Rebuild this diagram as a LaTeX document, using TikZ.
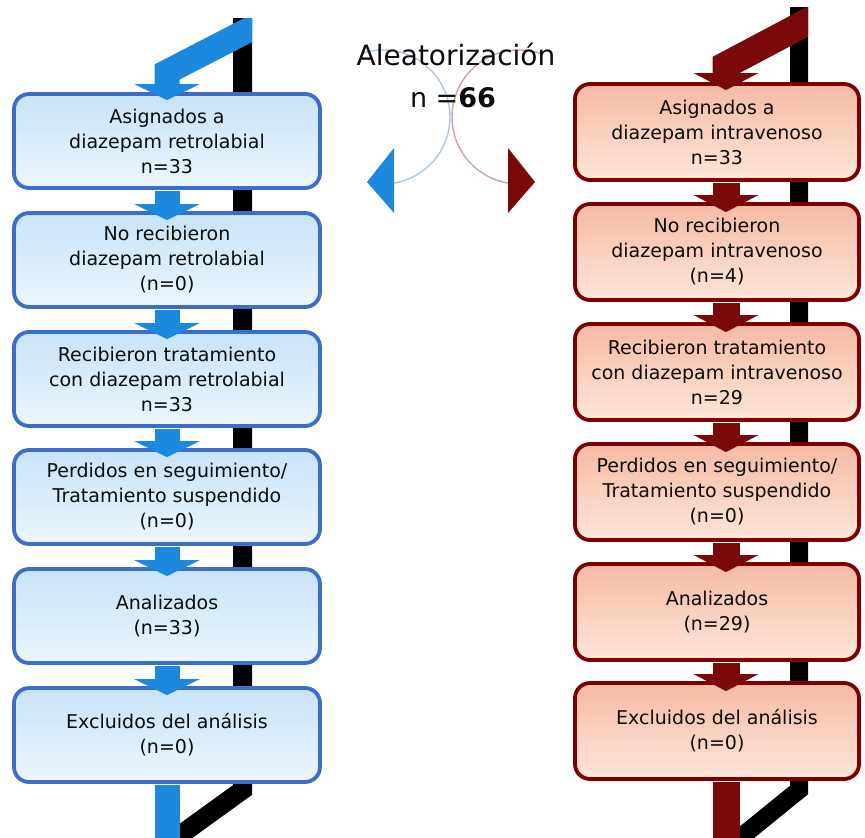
\documentclass[tikz,border=0pt]{standalone}
\usepackage{fontspec}
\setmainfont{DejaVu Sans}
\usetikzlibrary{arrows.meta,calc}
\definecolor{bxblue}{RGB}{58,110,200}
\definecolor{bxred}{RGB}{125,0,0}
\definecolor{lfillT}{RGB}{200,227,247}
\definecolor{lfillB}{RGB}{236,246,253}
\definecolor{rfillT}{RGB}{246,186,164}
\definecolor{rfillB}{RGB}{252,230,218}
\definecolor{arblue}{RGB}{28,136,222}
\definecolor{arred}{RGB}{122,10,10}
\definecolor{txt}{RGB}{12,12,12}
\definecolor{arcblue}{RGB}{150,185,220}
\definecolor{arcred}{RGB}{190,140,140}
\begin{document}
\begin{tikzpicture}[x=1pt,y=-1pt,
  boxbase/.style={line width=3.8pt, rounded corners=15pt, align=center,
    font=\fontsize{19}{25}\selectfont, text=txt, inner sep=0pt},
  lbox/.style={boxbase, draw=bxblue, top color=lfillT, bottom color=lfillB,
    minimum width=306pt, minimum height=94pt},
  rbox/.style={boxbase, draw=bxred, top color=rfillT, bottom color=rfillB,
    minimum width=284pt, minimum height=96pt},
  lshaft/.style={draw=arblue, line width=25pt, miter limit=10,
    -{Triangle[width=65pt,length=16pt]}},
  rshaft/.style={draw=arred, line width=27pt, miter limit=10,
    -{Triangle[width=64pt,length=17pt]}},
  lplain/.style={draw=arblue, line width=25pt},
  rplain/.style={draw=arred, line width=27pt},
  blackbar/.style={draw=black, line width=19pt, miter limit=10},
]
\useasboundingbox (0,0) rectangle (865,838);
\clip (0,0) rectangle (865,838);

% named coordinates
\coordinate (lbtop) at (242.5,-10);
\coordinate (lbbend) at (242.5,790);
\coordinate (lbend) at (165,846);
\coordinate (rbtop) at (799,-10);
\coordinate (rbbend) at (799,790);
\coordinate (rbend) at (730,846);
\coordinate (ltop) at (320,-7);
\coordinate (lbend1) at (167,72);
\coordinate (rtop) at (860,-6);
\coordinate (rbend1) at (726,65);
\coordinate (lfoot) at (167,850);
\coordinate (rfoot) at (726,850);

% black bars
\begin{scope}
\clip (0,18) rectangle (440,838);
\draw[blackbar] (lbtop) -- (lbbend) -- (lbend);
\end{scope}
\begin{scope}
\clip (440,7) rectangle (865,838);
\draw[blackbar, line width=18pt] (rbtop) -- (rbbend) -- (rbend);
\end{scope}

% boxes
\node[lbox] (L1) at (167,141) {Asignados a\\diazepam retrolabial\\n=33};
\node[lbox] (L2) at (167,260) {No recibieron\\diazepam retrolabial\\(n=0)};
\node[lbox] (L3) at (167,379) {Recibieron tratamiento\\con diazepam retrolabial\\n=33};
\node[lbox] (L4) at (167,497) {Perdidos en seguimiento/\\Tratamiento suspendido\\(n=0)};
\node[lbox] (L5) at (167,616) {Analizados\\(n=33)};
\node[lbox] (L6) at (167,735) {Excluidos del análisis\\(n=0)};

\node[rbox] (R1) at (717,132) {Asignados a\\diazepam intravenoso\\n=33};
\node[rbox] (R2) at (717,252) {No recibieron\\diazepam intravenoso\\(n=4)};
\node[rbox] (R3) at (717,372) {Recibieron tratamiento\\con diazepam intravenoso\\n=29};
\node[rbox] (R4) at (717,492) {Perdidos en seguimiento/\\Tratamiento suspendido\\(n=0)};
\node[rbox] (R5) at (717,612) {Analizados\\(n=29)};
\node[rbox] (R6) at (717,731) {Excluidos del análisis\\(n=0)};

% top connectors
\begin{scope}
\clip (0,18) rectangle (252,838);
\draw[lshaft] (ltop) -- (lbend1) -- ([yshift=-8pt]L1.north);
\end{scope}
\begin{scope}
\clip (440,7) rectangle (808,838);
\draw[rshaft] (rtop) -- (rbend1) -- ([xshift=9pt,yshift=-8pt]R1.north);
\end{scope}

% arrows between boxes
\foreach \a/\b in {L1/L2,L2/L3,L3/L4,L4/L5,L5/L6}
  \draw[lshaft] ([yshift=-1pt]\a.south) -- ([yshift=-9pt]\b.north);
\foreach \a/\b in {R1/R2,R2/R3,R3/R4,R4/R5,R5/R6}
  \draw[rshaft] ([xshift=9pt,yshift=-1pt]\a.south) -- ([xshift=9pt,yshift=-10pt]\b.north);

% bottom shafts
\draw[lplain] ([yshift=-1pt]L6.south) -- (lfoot);
\draw[rplain] ([xshift=9pt,yshift=-1pt]R6.south) -- (rfoot);

% centre: title and split
\coordinate (bc) at (383,117);
\coordinate (rc) at (519,117);
\draw[arcblue, line width=1.4pt, opacity=0.8] ($(bc)+(-109:67)$) arc[start angle=-109, end angle=81, radius=67];
\draw[arcred, line width=1.4pt, opacity=0.8] ($(rc)+(289:67)$) arc[start angle=289, end angle=99, radius=67];
\coordinate (btip) at (367,182);
\coordinate (rtip) at (535,182);
\fill[arblue] (btip) -- (394,148) -- (394,213) -- cycle;
\fill[arred] (rtip) -- (508,148) -- (508,213) -- cycle;

\node[anchor=base, font=\fontsize{28}{32}\selectfont, text=txt, inner sep=0pt] (title) at (456,65) {Aleatorización};
\node[anchor=base, font=\fontsize{27}{32}\selectfont, text=txt, inner sep=0pt] (nval) at (453,107) {n =\textbf{66}};
\end{tikzpicture}
\end{document}
